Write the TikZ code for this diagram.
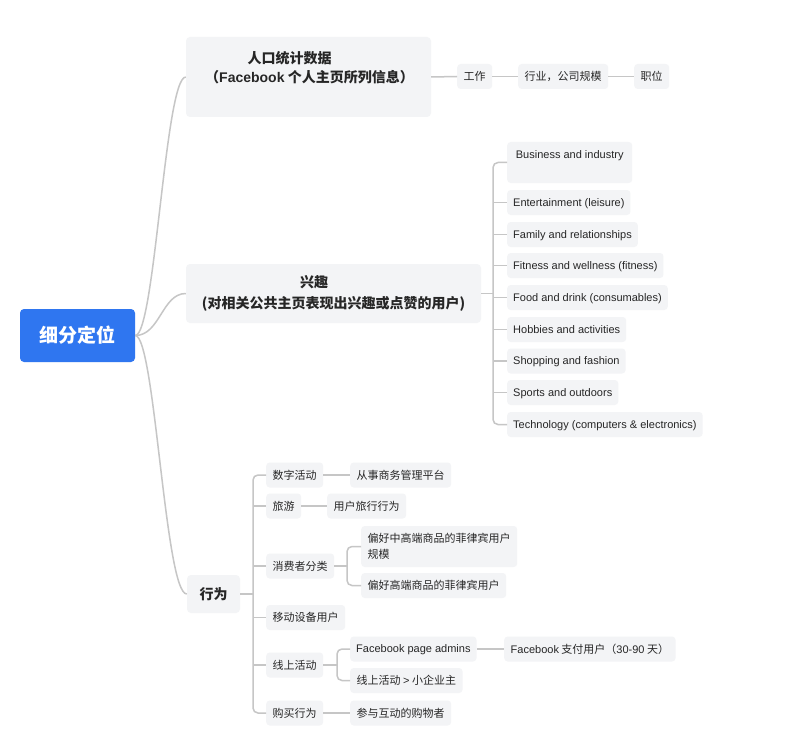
\documentclass[tikz,border=0pt]{standalone}
\usepackage{fontspec}
\setmainfont{Liberation Sans}
\newfontfamily\zh{Noto Sans CJK SC}
\newfontfamily\la{Liberation Sans}
\definecolor{boxc}{HTML}{F3F4F6}
\definecolor{linec}{HTML}{C6C6C6}
\definecolor{textc}{HTML}{262626}
\definecolor{rootc}{HTML}{2F76F0}
\begin{document}
\begin{tikzpicture}[x=1pt,y=-1pt,
  conn/.style={draw=linec, line width=1.5pt},
  spine/.style={conn, rounded corners=5pt},
  leaf/.style={fill=boxc, rounded corners=3.5pt, anchor=west, inner xsep=6.5pt, inner ysep=0pt,
    minimum height=25pt, text height=8pt, text depth=0pt, text=textc, font=\zh\fontsize{11}{13}\selectfont},
  lleaf/.style={leaf, font=\la\fontsize{11}{13}\selectfont, inner xsep=6pt, text height=7.5pt},
  big/.style={fill=boxc, rounded corners=4pt, inner sep=0pt, text=textc},
  bigtext/.style={text=textc, font=\zh\bfseries\fontsize{14}{19}\selectfont, align=center, inner sep=0pt}]
\useasboundingbox[fill=white] (0,0) rectangle (802,754);

% root
\node[fill=rootc, rounded corners=4pt, minimum width=115pt, minimum height=53pt, inner sep=0pt,
  text=white, font=\zh\bfseries\fontsize{19}{22}\selectfont] (root) at (77.5,335.5) {细分定位};

% demographics
\node[big, minimum width=245pt, minimum height=80pt] (demo) at (308.5,77) {};
\node[bigtext] (demotxt) at (309.5,67.5) {人口统计数据\hspace*{40pt}\\（{\la\bfseries Facebook} 个人主页所列信息）};
\node[leaf] (work) at (457,76.5) {工作};
\node[leaf] (ind) at (518,76.5) {行业，公司规模};
\node[leaf] (pos) at (634,76.5) {职位};

% interests
\node[big, minimum width=295pt, minimum height=59pt, align=center,
  font=\zh\bfseries\fontsize{14}{21}\selectfont] (interest) at (333.5,293.5)
  {兴趣\hspace*{39pt}\\(对相关公共主页表现出兴趣或点赞的用户)};
\node[lleaf, text height=16.5pt, text depth=24.5pt, minimum height=0pt, inner xsep=8.7pt] (bus) at (507,162.5) {Business and industry};
\node[lleaf] (ent) at (507,202.5) {Entertainment (leisure)};
\node[lleaf] (fam) at (507,234.5) {Family and relationships};
\node[lleaf] (fit) at (507,265.5) {Fitness and wellness (fitness)};
\node[lleaf] (food) at (507,297.5) {Food and drink (consumables)};
\node[lleaf] (hob) at (507,329.5) {Hobbies and activities};
\node[lleaf] (shop) at (507,361) {Shopping and fashion};
\node[lleaf] (spo) at (507,392.5) {Sports and outdoors};
\node[lleaf] (tech) at (507,424.5) {Technology (computers \& electronics)};

% behaviour
\node[big, minimum width=53pt, minimum height=38pt, font=\zh\bfseries\fontsize{14}{17}\selectfont] (beh) at (213.5,594) {行为};
\node[leaf] (digi) at (266,475) {数字活动};
\node[leaf] (biz) at (350,475) {从事商务管理平台};
\node[leaf] (trav) at (266,506) {旅游};
\node[leaf] (travc) at (327,506) {用户旅行行为};
\node[leaf] (cons) at (266,566) {消费者分类};
\node[leaf, align=left, text height=, text depth=, minimum height=41pt, font=\zh\fontsize{11}{16}\selectfont] (pref1) at (361,546.5) {偏好中高端商品的菲律宾用户\\规模};
\node[leaf] (pref2) at (361,585.5) {偏好高端商品的菲律宾用户};
\node[leaf] (mob) at (266,617.5) {移动设备用户};
\node[leaf] (onl) at (266,665) {线上活动};
\node[lleaf] (fbadm) at (350,649) {Facebook page admins};
\node[leaf] (fbpay) at (504,649) {{\la Facebook} 支付用户（{\la 30-90} 天）};
\node[leaf] (smb) at (350,680.5) {线上活动 {\la >} 小企业主};
\node[leaf] (buy) at (266,713) {购买行为};
\node[leaf] (shopper) at (350,713) {参与互动的购物者};

% root connectors
\draw[conn] (root.east) .. controls (155,335.5) and (165,77) .. (demo.west);
\draw[conn] (root.east) .. controls (160,335.5) and (162,293.5) .. (interest.west);
\draw[conn] (root.east) .. controls (155,335.5) and (165,594) .. (beh.west);

% demographics chain
\draw[conn] (demo.east) -- (work.west);
\draw[conn] (work.east) -- (ind.west);
\draw[conn] (ind.east) -- (pos.west);

% interest bracket
\coordinate (ib) at (493,293.5);
\draw[conn] (interest.east) -- (ib);
\draw[spine] (bus.west) -| (ib) |- (tech.west);
\foreach \n in {ent,fam,fit,food,hob,shop,spo}
  \draw[conn] (\n.west -| ib) -- (\n.west);

% behaviour bracket
\coordinate (bb) at (253,594);
\draw[conn] (beh.east) -- (bb);
\draw[spine] (digi.west) -| (bb) |- (buy.west);
\foreach \n in {trav,cons,mob,onl}
  \draw[conn] (\n.west -| bb) -- (\n.west);
\draw[conn] (digi.east) -- (biz.west);
\draw[conn] (trav.east) -- (travc.west);
\draw[conn] (buy.east) -- (shopper.west);

\coordinate (cb) at (347,566);
\draw[conn] (cons.east) -- (cb);
\draw[spine] (pref1.west) -| (cb) |- (pref2.west);

\coordinate (ob) at (337,665);
\draw[conn] (onl.east) -- (ob);
\draw[spine] (fbadm.west) -| (ob) |- (smb.west);
\draw[conn] (fbadm.east) -- (fbpay.west);
\end{tikzpicture}
\end{document}
